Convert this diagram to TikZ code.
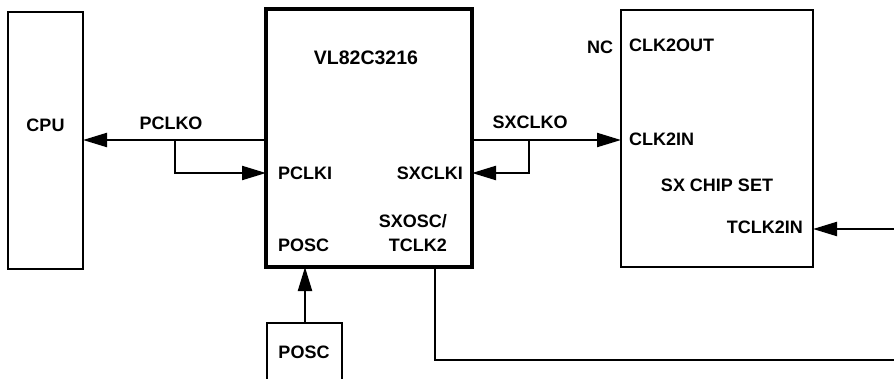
\documentclass[tikz,border=0pt]{standalone}
\usepackage{fontspec}
\setmainfont{Liberation Sans}
\usetikzlibrary{arrows.meta}
\begin{document}
\begin{tikzpicture}[x=1pt,y=-1pt,
  box/.style={draw, line width=2pt, rectangle, inner sep=0pt, outer sep=0pt, anchor=north west},
  chip/.style={box, line width=3.2pt},
  lbl/.style={inner sep=0pt, font=\fontsize{18}{18}\selectfont\bfseries, text height=13pt, text depth=0pt},
  wire/.style={line width=2.2pt},
  arr/.style={wire, -{Triangle[length=24pt,width=14pt]}}
]
\useasboundingbox (0,0) rectangle (894,378);
\clip (0,0) rectangle (894,378);
% boxes
\node[box, minimum width=75pt, minimum height=257pt] (cpu) at (8,12) {};
\node[chip, minimum width=206pt, minimum height=258pt] (vl) at (266,9) {};
\node[box, minimum width=192pt, minimum height=257pt] (sx) at (621,10) {};
\node[box, minimum width=75pt, minimum height=90pt] (posc) at (267,323) {};
% labels
\node[lbl] (tcpu) at (45.5,125) {CPU};
\node[lbl, font=\fontsize{19.5}{19.5}\selectfont\bfseries] (tvl) at (366,58) {VL82C3216};
\node[lbl] (tpclko) at (171,123) {PCLKO};
\node[lbl, anchor=west] (tpclki) at (278,173) {PCLKI};
\node[lbl] (tsxclko) at (530,122) {SXCLKO};
\node[lbl, anchor=east] (tsxclki) at (463,173) {SXCLKI};
\node[lbl, anchor=east] (tsxosc) at (447,221) {SXOSC/};
\node[lbl, anchor=east] (ttclk2) at (447,245) {TCLK2};
\node[lbl, anchor=west] (tposc) at (278,245) {POSC};
\node[lbl] (tposcbox) at (304,352) {POSC};
\node[lbl] (tnc) at (600,47) {NC};
\node[lbl, anchor=west] (tclk2out) at (629,45) {CLK2OUT};
\node[lbl, anchor=west] (tclk2in) at (629,139) {CLK2IN};
\node[lbl] (tsxcs) at (717,185) {SX CHIP SET};
\node[lbl, anchor=east] (ttclk2in) at (803,227) {TCLK2IN};
% coordinates
\coordinate (ya) at (0,140);
\coordinate (yb) at (0,173);
\coordinate (b1) at (175,140);
\coordinate (b1d) at (175,173);
\coordinate (b2) at (529,140);
\coordinate (b2d) at (529,173);
\coordinate (rt) at (894,229);
\coordinate (tx) at (435,0);
\coordinate (px) at (305,0);
\coordinate (bl) at (435,360);
\coordinate (br) at (894,360);
% connectors
\draw[arr] (vl.west |- ya) -- (cpu.east |- ya);
\draw[arr] (b1) -- (b1d) -- (vl.west |- yb);
\draw[arr] (vl.east |- ya) -- (sx.west |- ya);
\draw[arr] (b2) -- (b2d) -- (vl.east |- yb);
\draw[arr] (rt) -- (sx.east |- rt);
\draw[arr] (posc.north -| px) -- (vl.south -| px);
\draw[wire] (vl.south -| tx) -- (bl) -- (br);
\end{tikzpicture}
\end{document}
